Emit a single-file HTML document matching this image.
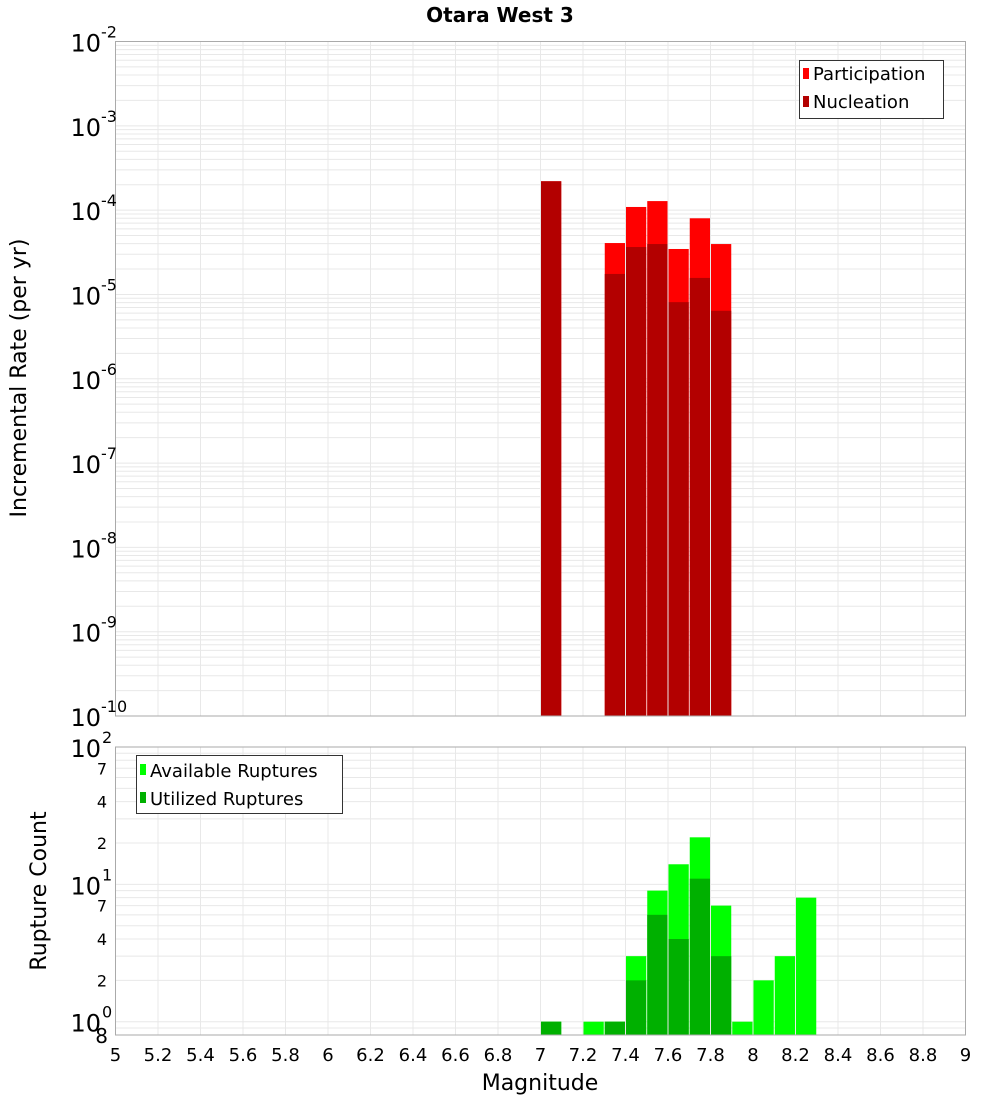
<!DOCTYPE html>
<html><head><meta charset="utf-8"><style>
body{margin:0;background:#fff;}
svg{font-family:"DejaVu Sans","Liberation Sans",sans-serif;}
</style></head><body>
<svg id="c" width="1000" height="1100"></svg>
<script>
const magCenters=[7.05,7.35,7.45,7.55,7.65,7.75,7.85];
const participation=[2.2e-4,4.07e-5,1.09e-4,1.28e-4,3.46e-5,8.0e-5,3.96e-5];
const nucleation=[2.2e-4,1.75e-5,3.65e-5,3.96e-5,8.1e-6,1.57e-5,6.4e-6];
const countMags=[7.05,7.25,7.35,7.45,7.55,7.65,7.75,7.85,7.95,8.05,8.15,8.25];
const available=[1,1,1,3,9,14,22,7,1,2,3,8];
const utilized=[1,0,1,2,6,4,11,3,0,0,0,0];
const xTicks=[5,5.2,5.4,5.6,5.8,6,6.2,6.4,6.6,6.8,7,7.2,7.4,7.6,7.8,8,8.2,8.4,8.6,8.8,9];
const topExps=[-2,-3,-4,-5,-6,-7,-8,-9,-10];

const NS="http://www.w3.org/2000/svg";
const svg=document.getElementById('c');
function el(t,a,p){const e=document.createElementNS(NS,t);for(const k in a)e.setAttribute(k,a[k]);(p||svg).appendChild(e);return e;}
const L=115.5,R=965.5;
const X=m=>L+(m-5)/4*(R-L);
const T1=41.5,B1=716;
const Y1=v=>T1+(-2-Math.log10(v))/8*(B1-T1);
const T2=747,B2=1035;
const lmin=Math.log10(0.8);
const Y2=v=>T2+(2-Math.log10(v))/(2-lmin)*(B2-T2);

// top grid
const g1=el('g',{});

for(let e=-10;e<-2;e++)for(let k=1;k<10;k++){const y=Y1(k*Math.pow(10,e));el('line',{x1:L,x2:R,y1:y,y2:y,stroke:'#e8e8e8','stroke-width':1},g1);}
xTicks.forEach(t=>{el('line',{x1:X(t),x2:X(t),y1:T1,y2:B1,stroke:'#e8e8e8'},g1);});
// bottom grid
const g2=el('g',{});

for(let e=-1;e<2;e++)for(let k=1;k<10;k++){const v=k*Math.pow(10,e);if(v<0.8)continue;const y=Y2(v);el('line',{x1:L,x2:R,y1:y,y2:y,stroke:'#e8e8e8'},g2);}
xTicks.forEach(t=>{el('line',{x1:X(t),x2:X(t),y1:T2,y2:B2,stroke:'#e8e8e8'},g2);});

// top bars
magCenters.forEach((m,i)=>{
  const x=X(m-0.05)+0.5,w=X(m+0.05)-X(m-0.05)-1;
  let r=el('rect',{x:x,y:Y1(participation[i]),width:w,height:B1-Y1(participation[i]),fill:'#ff0000'});
  
  r=el('rect',{x:x,y:Y1(nucleation[i]),width:w,height:B1-Y1(nucleation[i]),fill:'#b30000'});
  
});
// bottom bars
countMags.forEach((m,i)=>{
  const x=X(m-0.05)+0.5,w=X(m+0.05)-X(m-0.05)-1;
  if(available[i]>0){let r=el('rect',{x:x,y:Y2(available[i]),width:w,height:B2-Y2(available[i]),fill:'#00ff00'});
  }
  if(utilized[i]>0){let r=el('rect',{x:x,y:Y2(utilized[i]),width:w,height:B2-Y2(utilized[i]),fill:'#00b000'});
  }
});
// frames
el('rect',{x:L,y:T1,width:R-L,height:B1-T1,fill:'none',stroke:'#aaa'});
el('rect',{x:L,y:T2,width:R-L,height:B2-T2,fill:'none',stroke:'#aaa'});

// top y labels
topExps.forEach(e=>{
  const y=Y1(Math.pow(10,e));
  const t=el('text',{x:101,y:y+10,'font-size':24,'text-anchor':'end'});t.textContent='10';
  
  const s=el('text',{x:101,y:y-4,'font-size':16});s.textContent=String(e);
  
});
// bottom y labels
[2,1,0].forEach(e=>{
  const y=Y2(Math.pow(10,e));
  const t=el('text',{x:101,y:y+10,'font-size':24,'text-anchor':'end'});t.textContent='10';
  
  const s=el('text',{x:102,y:y-4,'font-size':16});s.textContent=String(e);
  
});
[[7,70],[4,40],[2,20],[7,7],[4,4],[2,2]].forEach(p=>{
  const t=el('text',{x:107,y:Y2(p[1])+6,'font-size':16,'text-anchor':'end'});t.textContent=String(p[0]);
  
});
{const t=el('text',{x:108,y:1043,'font-size':20,'text-anchor':'end'});t.textContent='8';
}
// x labels
xTicks.forEach(v=>{
  const t=el('text',{x:X(v),y:1061,'font-size':18,'text-anchor':'middle'});t.textContent=String(v);
  
});
</script>
<svg width="1000" height="1100" style="position:absolute;left:0;top:0" font-family="DejaVu Sans, Liberation Sans, sans-serif">
<text x="500" y="22" font-size="20" font-weight="bold" text-anchor="middle">Otara West 3</text>
<text transform="translate(26,378) rotate(-90)" font-size="22" text-anchor="middle">Incremental Rate (per yr)</text>
<text transform="translate(46,891) rotate(-90)" font-size="22" text-anchor="middle">Rupture Count</text>
<text x="540" y="1090" font-size="22" text-anchor="middle">Magnitude</text>
<g>
<rect x="799.5" y="60.5" width="144" height="58" fill="#fff" stroke="#333"/>
<rect x="803" y="68" width="6" height="11" fill="#ff0000"/>
<text x="813" y="80" font-size="18">Participation</text>
<rect x="803" y="96" width="6" height="11" fill="#b30000"/>
<text x="813" y="108" font-size="18">Nucleation</text>
</g>
<g>
<rect x="136.5" y="755.5" width="206" height="58" fill="#fff" stroke="#333"/>
<rect x="140" y="764" width="6" height="11" fill="#00ff00"/>
<text x="150" y="777" font-size="18">Available Ruptures</text>
<rect x="140" y="792" width="6" height="11" fill="#00b000"/>
<text x="150" y="805" font-size="18">Utilized Ruptures</text>
</g>
</svg>
</body></html>
